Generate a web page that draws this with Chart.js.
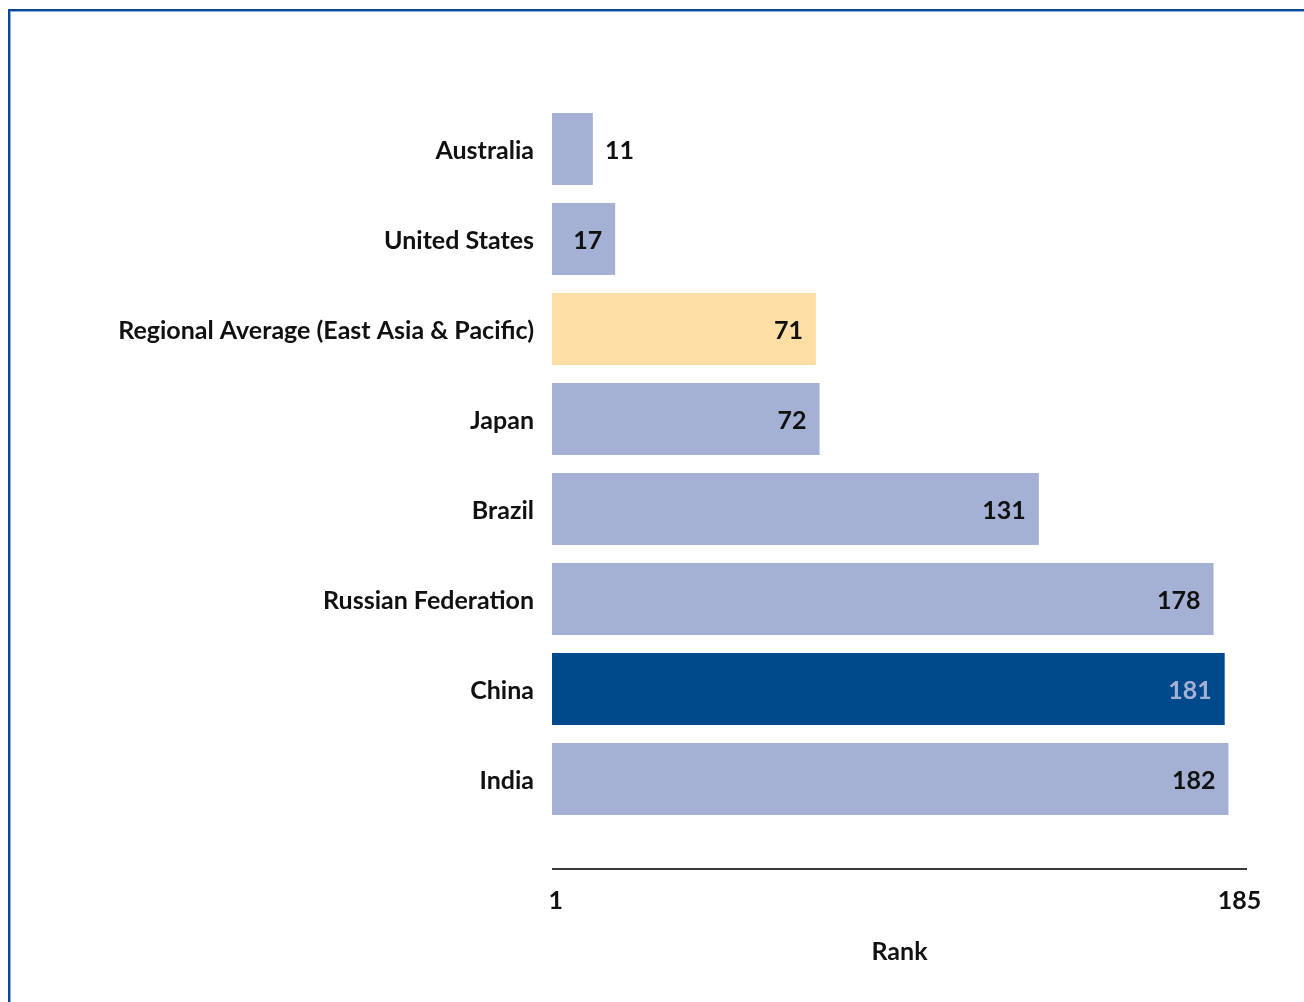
<!DOCTYPE html>
<html>
<head>
<meta charset="utf-8">
<script src="https://cdn.jsdelivr.net/npm/chart.js@4.4.1/dist/chart.umd.min.js"></script>
<style>
  html, body { margin: 0; padding: 0; background: #fff; }
  #wrap { position: relative; width: 1304px; height: 1002px; overflow: hidden; }
  #frame {
    position: absolute; left: 8px; top: 9px; right: -10px; bottom: -10px;
    border-top: 2px solid #0b4a93; border-left: 2px solid #0b4a93;
    box-shadow: inset 1px 1px 0 #8aaedb;
  }
  #chart { position: absolute; left: 0; top: 0; }
</style>
</head>
<body>
<div id="wrap">
  <div id="frame"></div>
  <canvas id="chart" width="1304" height="1002"></canvas>
</div>
<script>
const countries = ['Australia', 'United States', 'Regional Average (East Asia & Pacific)', 'Japan', 'Brazil', 'Russian Federation', 'China', 'India'];
const ranks = [11, 17, 71, 72, 131, 178, 181, 182];
const barColors = ['#a5b1d4', '#a5b1d4', '#fddfa6', '#a5b1d4', '#a5b1d4', '#a5b1d4', '#004a8c', '#a5b1d4'];
const labelColors = ['#111111', '#111111', '#111111', '#111111', '#111111', '#111111', '#a5b1d4', '#111111'];
const rankTicks = [1, 185];

const fontFamily = 'Lato, "Open Sans", sans-serif';
const labelFont = { family: fontFamily, size: 25, weight: 'bold' };

// value labels next to / inside the bar ends
const valueLabels = {
  id: 'valueLabels',
  afterDatasetsDraw(chart) {
    const ctx = chart.ctx;
    const meta = chart.getDatasetMeta(0);
    ctx.save();
    ctx.font = 'bold 25px ' + fontFamily;
    ctx.textBaseline = 'middle';
    meta.data.forEach((bar, i) => {
      const v = ranks[i];
      ctx.fillStyle = labelColors[i];
      if (bar.x - bar.base < 50) {
        ctx.textAlign = 'left';
        ctx.fillText(String(v), bar.x + 12, bar.y + 2);
      } else {
        ctx.textAlign = 'right';
        ctx.fillText(String(v), bar.x - 13, bar.y + 2);
      }
    });
    ctx.restore();
  }
};

// axis rule below the bars
const axisRule = {
  id: 'axisRule',
  afterDraw(chart) {
    const x = chart.scales.x;
    const ctx = chart.ctx;
    const y = chart.chartArea.bottom + 45;
    ctx.save();
    ctx.strokeStyle = '#3a3a3a';
    ctx.lineWidth = 2;
    ctx.beginPath();
    ctx.moveTo(x.getPixelForValue(0), y);
    ctx.lineTo(x.right, y);
    ctx.stroke();
    ctx.restore();
  }
};

new Chart(document.getElementById('chart'), {
  type: 'bar',
  data: {
    labels: countries,
    datasets: [{
      data: ranks,
      backgroundColor: barColors,
      borderWidth: 0,
      categoryPercentage: 0.8,
      barPercentage: 1.0
    }]
  },
  options: {
    indexAxis: 'y',
    responsive: false,
    animation: false,
    layout: { padding: { top: 104, right: 57, bottom: 0, left: 0 } },
    plugins: { legend: { display: false }, tooltip: { enabled: false } },
    scales: {
      x: {
        min: 0,
        max: 187,
        afterBuildTicks: s => { s.ticks = rankTicks.map(v => ({ value: v })); },
        afterFit: s => { s.height = 178; s.paddingLeft = 0; s.paddingRight = 0; },
        grid: { display: false, drawTicks: false },
        border: { display: false },
        ticks: { color: '#111111', font: labelFont, padding: 62, maxRotation: 0, autoSkip: false },
        title: {
          display: true,
          text: 'Rank',
          color: '#111111',
          font: labelFont,
          padding: { top: 0, bottom: 35 }
        }
      },
      y: {
        afterFit: s => { s.width = 552; },
        grid: { display: false, drawTicks: false },
        border: { display: false },
        ticks: { color: '#111111', font: labelFont, padding: 18, labelOffset: 2 }
      }
    }
  },
  plugins: [valueLabels, axisRule]
});
</script>
</body>
</html>
